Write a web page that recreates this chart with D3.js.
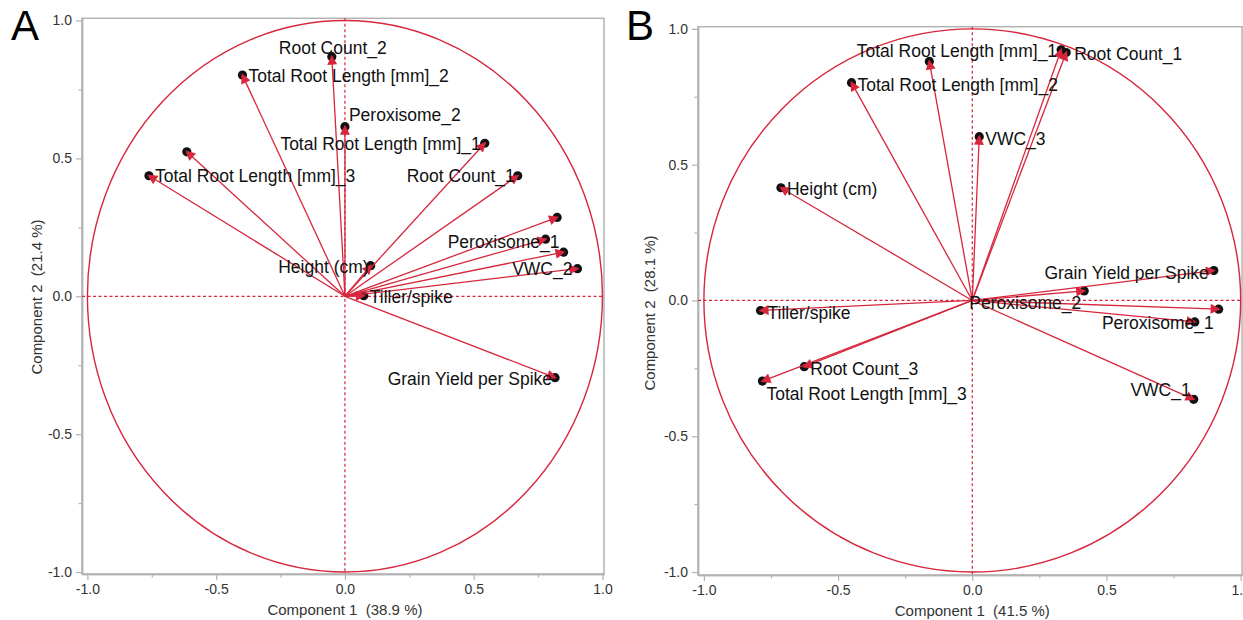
<!DOCTYPE html>
<html>
<head>
<meta charset="utf-8">
<script src="https://cdn.jsdelivr.net/npm/d3@7"></script>
<style>
  body { margin: 0; background: #fff; }
  svg { display: block; font-family: "Liberation Sans", Arial, Helvetica, sans-serif; }
</style>
</head>
<body>
<svg id="chart" width="1243" height="620"></svg>
<script>
// Panel A loadings (Component 1 / Component 2)
const namesA = ["Root Count_2", "Total Root Length [mm]_2", "Peroxisome_2", "Total Root Length [mm]_1",
  "Total Root Length [mm]_3", "", "Root Count_1", "", "Peroxisome_1", "", "VWC_2",
  "Height (cm)", "Tiller/spike", "Grain Yield per Spike"]
const pc1A = [-0.051, -0.398, 0.0, 0.543, -0.761, -0.614, 0.671, 0.824, 0.779, 0.849, 0.903, 0.100, 0.073, 0.816]
const pc2A = [0.869, 0.802, 0.615, 0.555, 0.437, 0.524, 0.437, 0.286, 0.207, 0.160, 0.100, 0.111, 0.002, -0.295]

// Panel B loadings
const namesB = ["Total Root Length [mm]_1", "Root Count_1", "", "Total Root Length [mm]_2", "VWC_3",
  "Height (cm)", "Grain Yield per Spike", "Peroxisome_2", "", "Peroxisome_1", "Tiller/spike",
  "Root Count_3", "Total Root Length [mm]_3", "VWC_1"]
const pc1B = [0.331, 0.350, -0.160, -0.450, 0.026, -0.713, 0.900, 0.417, 0.918, 0.829, -0.789, -0.626, -0.782, 0.825]
const pc2B = [0.923, 0.913, 0.880, 0.802, 0.603, 0.415, 0.110, 0.035, -0.032, -0.079, -0.037, -0.244, -0.297, -0.364]

const majorTicks = [-1.0, -0.5, 0.0, 0.5, 1.0]
const minorTicks = [-0.75, -0.25, 0.25, 0.75]

// label placement: [anchor, dx, dy]
const placeA = {
  "Root Count_2": ["middle", 1, -9],
  "Total Root Length [mm]_2": ["start", 6, 1],
  "Peroxisome_2": ["start", 4, -12],
  "Total Root Length [mm]_1": ["end", -4, 1],
  "Total Root Length [mm]_3": ["start", 6, 0],
  "Root Count_1": ["end", -3, 0],
  "Peroxisome_1": ["end", 14, 3],
  "VWC_2": ["end", -5, 0],
  "Height (cm)": ["end", -2, 1],
  "Tiller/spike": ["start", 6, 1],
  "Grain Yield per Spike": ["end", -3, 1]
}
const placeB = {
  "Total Root Length [mm]_1": ["end", -4, 1.5],
  "Root Count_1": ["start", 8, 1.5],
  "Total Root Length [mm]_2": ["start", 6, 2],
  "VWC_3": ["start", 6, 2],
  "Height (cm)": ["start", 6, 1],
  "Grain Yield per Spike": ["end", -5, 2],
  "Peroxisome_2": ["end", -3, 12],
  "Peroxisome_1": ["end", 19, 1],
  "Tiller/spike": ["start", 7, 2],
  "Root Count_3": ["start", 6, 2],
  "Total Root Length [mm]_3": ["start", 4, 13],
  "VWC_1": ["end", -3, -9]
}

const red = "#d7263d"
const gray = "#b3b3b3"
const svg = d3.select("#chart")

// arrow head
svg.append("defs").append("marker")
  .attr("id", "head")
  .attr("viewBox", "0 -5 10 10")
  .attr("refX", 8)
  .attr("refY", 0)
  .attr("markerUnits", "userSpaceOnUse")
  .attr("markerWidth", 11)
  .attr("markerHeight", 10)
  .attr("orient", "auto")
  .append("path")
  .attr("d", "M0,-5L10,0L0,5Z")
  .attr("fill", red)

const drawPanel = (cfg) => {
  const x = d3.scaleLinear().domain(cfg.xDom).range(cfg.xRange)
  const y = d3.scaleLinear().domain(cfg.yDom).range(cfg.yRange)
  const g = svg.append("g")
  const pts = cfg.names.map((n, i) => ({ name: n, a: cfg.pc1[i], b: cfg.pc2[i] }))

  // frame
  g.append("rect")
    .attr("x", cfg.xRange[0]).attr("y", cfg.yRange[1])
    .attr("width", cfg.xRange[1] - cfg.xRange[0])
    .attr("height", cfg.yRange[0] - cfg.yRange[1])
    .attr("fill", "none").attr("stroke", gray).attr("stroke-width", 1.5)

  // axes
  const fmt = d => d.toFixed(1)
  const xAxis = g.append("g").attr("transform", `translate(0,${cfg.yRange[0]})`)
    .call(d3.axisBottom(x).tickValues(majorTicks).tickFormat(fmt).tickSize(6).tickSizeOuter(0))
  const xMinor = g.append("g").attr("transform", `translate(0,${cfg.yRange[0]})`)
    .call(d3.axisBottom(x).tickValues(minorTicks).tickFormat("").tickSize(3.5).tickSizeOuter(0))
  const yAxis = g.append("g").attr("transform", `translate(${cfg.xRange[0]},0)`)
    .call(d3.axisLeft(y).tickValues(majorTicks).tickFormat(fmt).tickSize(6).tickSizeOuter(0))
  const yMinor = g.append("g").attr("transform", `translate(${cfg.xRange[0]},0)`)
    .call(d3.axisLeft(y).tickValues(minorTicks).tickFormat("").tickSize(3.5).tickSizeOuter(0))
  ;[xAxis, xMinor, yAxis, yMinor].forEach(a => {
    a.select(".domain").attr("stroke", gray).attr("stroke-width", 1.5)
    a.selectAll(".tick line").attr("stroke", gray).attr("stroke-width", 1.2)
    a.selectAll("text").attr("fill", "#333").style("font-size", "14px")
      .style("font-family", "'Liberation Sans', Arial, sans-serif")
  })
  xAxis.selectAll("text").attr("y", 10)
  yAxis.selectAll("text").attr("x", -10)

  // axis titles
  g.append("text")
    .attr("x", x(0)).attr("y", cfg.yRange[0] + 41)
    .attr("text-anchor", "middle").attr("fill", "#333").style("font-size", "15px")
    .style("white-space", "pre")
    .text(cfg.xTitle)
  g.append("text")
    .attr("transform", `translate(${cfg.yTitleX},${cfg.yTitleY}) rotate(-90)`)
    .attr("text-anchor", "middle").attr("dy", "0.35em").attr("fill", "#333").style("font-size", "15px")
    .style("white-space", "pre")
    .text(cfg.yTitle)

  // panel letter
  g.append("text")
    .attr("x", cfg.letterX).attr("y", 40)
    .attr("fill", "#000").style("font-size", "42px")
    .text(cfg.letter)

  // zero reference lines
  g.append("line")
    .attr("x1", cfg.xRange[0]).attr("x2", cfg.xRange[1])
    .attr("y1", y(0)).attr("y2", y(0))
    .attr("stroke", red).attr("stroke-width", 1.2).attr("stroke-dasharray", "3,2.5")
  g.append("line")
    .attr("x1", x(0)).attr("x2", x(0))
    .attr("y1", cfg.yRange[1]).attr("y2", cfg.yRange[0])
    .attr("stroke", red).attr("stroke-width", 1.2).attr("stroke-dasharray", "3,2.5")

  // unit circle
  g.append("ellipse")
    .attr("cx", x(0)).attr("cy", y(0))
    .attr("rx", x(1) - x(0)).attr("ry", y(0) - y(1))
    .attr("fill", "none").attr("stroke", red).attr("stroke-width", 1.4)

  // points
  g.selectAll(".dot").data(pts).join("circle")
    .attr("class", "dot")
    .attr("cx", d => x(d.a)).attr("cy", d => y(d.b))
    .attr("r", 4.6).attr("fill", "#111")

  // arrows
  g.selectAll(".arrow").data(pts).join("line")
    .attr("class", "arrow")
    .attr("x1", x(0)).attr("y1", y(0))
    .attr("x2", d => x(d.a)).attr("y2", d => y(d.b))
    .attr("stroke", red).attr("stroke-width", 1.3)
    .attr("marker-end", "url(#head)")

  // labels
  g.selectAll(".lab").data(pts.filter(d => d.name)).join("text")
    .attr("class", "lab")
    .attr("x", d => x(d.a) + cfg.place[d.name][1])
    .attr("y", d => y(d.b) + cfg.place[d.name][2])
    .attr("dy", "0.35em")
    .attr("text-anchor", d => cfg.place[d.name][0])
    .attr("fill", "#111").style("font-size", "17.5px")
    .text(d => d.name)
}

drawPanel({
  names: namesA, pc1: pc1A, pc2: pc2A, place: placeA,
  xDom: [-1.021, 1.006], xRange: [82, 604],
  yDom: [-1.007, 1.008], yRange: [574, 18.3],
  xTitle: "Component 1  (38.9 %)", yTitle: "Component 2  (21.4 %)",
  yTitleX: 37, yTitleY: 297, letter: "A", letterX: 11
})

drawPanel({
  names: namesB, pc1: pc1B, pc2: pc2B, place: placeB,
  xDom: [-1.022, 1.005], xRange: [698, 1242],
  yDom: [-1.011, 1.008], yRange: [575, 26.7],
  xTitle: "Component 1  (41.5 %)", yTitle: "Component 2  (28.1 %)",
  yTitleX: 650, yTitleY: 313, letter: "B", letterX: 626
})
</script>
</body>
</html>
